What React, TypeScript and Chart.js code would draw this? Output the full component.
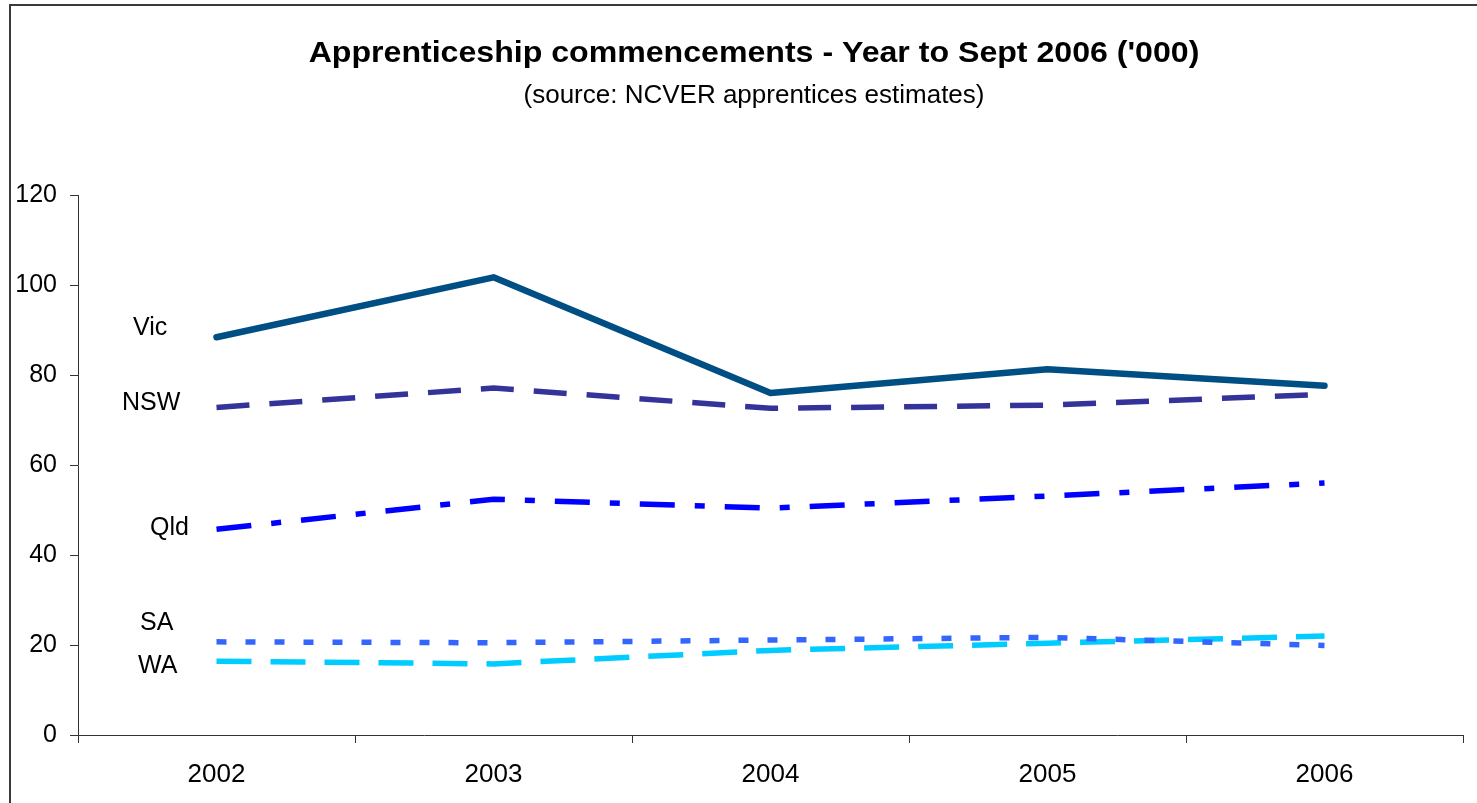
import React, { useEffect, useRef } from "react";
import { Chart, registerables } from "chart.js";

Chart.register(...registerables);

const years = ["2002", "2003", "2004", "2005", "2006"];
const vic = [88.4, 101.7, 76.0, 81.3, 77.6];
const nsw = [72.8, 77.1, 72.6, 73.3, 75.7];
const qld = [45.7, 52.4, 50.4, 53.1, 56.0];
const sa = [20.7, 20.5, 21.1, 21.7, 19.9];
const wa = [16.4, 15.8, 18.8, 20.4, 22.0];

const seriesNames = ["Vic", "NSW", "Qld", "SA", "WA"];
const seriesColors = ["#004F84", "#333399", "#0000FF", "#3366FF", "#00CCFF"];
// label anchors: value level and horizontal start
const labelLevels = [90.5, 73.8, 46.0, 24.8, 15.4];
const labelLeft = [133, 122, 150, 140, 138];

const titleText = "Apprenticeship commencements - Year to Sept 2006 ('000)";
const subtitleText = "(source: NCVER apprentices estimates)";
const FONT = "'Liberation Sans', Arial, sans-serif";

const decorPlugin = {
  id: "decor",
  beforeDraw(chart: any) {
    const ctx = chart.ctx;
    ctx.save();
    ctx.fillStyle = "#ffffff";
    ctx.fillRect(0, 0, chart.width, chart.height);
    ctx.strokeStyle = "#3a3a3a";
    ctx.lineWidth = 2;
    ctx.strokeRect(10, 5, chart.width + 20, chart.height + 20);
    ctx.fillStyle = "#000";
    ctx.textAlign = "center";
    ctx.textBaseline = "middle";
    ctx.save();
    ctx.translate(754, 54);
    ctx.scale(1.07, 1);
    ctx.font = "bold 30px " + FONT;
    ctx.fillText(titleText, 0, 0);
    ctx.restore();
    ctx.font = "26px " + FONT;
    ctx.fillText(subtitleText, 754, 96);
    ctx.restore();
  },
  afterDraw(chart: any) {
    const ctx = chart.ctx;
    const y = chart.scales.y;
    ctx.save();
    ctx.fillStyle = "#000";
    ctx.textAlign = "left";
    ctx.textBaseline = "middle";
    ctx.font = "25px " + FONT;
    seriesNames.forEach((n, i) => {
      ctx.fillText(n, labelLeft[i], y.getPixelForValue(labelLevels[i]));
    });
    ctx.restore();
  },
};

export default function App() {
  const ref = useRef<HTMLCanvasElement>(null);
  useEffect(() => {
    if (!ref.current) return;
    const data = [vic, nsw, qld, sa, wa];
    const dashes = [[], [33, 20], [35, 20, 10, 20], [10, 19], [35, 19]];
    const widths = [6.5, 5.5, 5.5, 5.5, 5.5];
    const chart = new Chart(ref.current, {
      type: "line",
      data: {
        labels: years,
        datasets: seriesNames.map((n, i) => ({
          label: n,
          data: data[i],
          borderColor: seriesColors[i],
          backgroundColor: seriesColors[i],
          borderWidth: widths[i],
          borderDash: dashes[i],
          borderCapStyle: i === 0 ? "round" : "butt",
          borderJoinStyle: i === 0 ? "round" : "miter",
          pointRadius: 0,
          tension: 0,
          fill: false,
        })),
      },
      options: {
        animation: false,
        responsive: false,
        maintainAspectRatio: false,
        events: [],
        layout: { padding: { left: 0, top: 195, right: 14, bottom: 0 } },
        plugins: { legend: { display: false }, title: { display: false }, tooltip: { enabled: false } },
        scales: {
          x: {
            type: "category",
            offset: true,
            grid: { offset: true, drawOnChartArea: false, drawTicks: true, tickLength: 8, color: "#333", lineWidth: 1 },
            border: { display: true, color: "#333", width: 1 },
            ticks: { color: "#000", font: { size: 26, family: FONT }, padding: 16, maxRotation: 0 },
            afterFit: (s: any) => { s.height = 68; },
          },
          y: {
            min: 0,
            max: 120,
            ticks: { stepSize: 20, color: "#000", font: { size: 25, family: FONT }, padding: 13 },
            grid: { drawOnChartArea: false, drawTicks: true, tickLength: 8, color: "#333", lineWidth: 1 },
            border: { display: true, color: "#333", width: 1 },
            afterFit: (s: any) => { s.width = 78; },
          },
        },
      },
      plugins: [decorPlugin],
    } as any);
    return () => chart.destroy();
  }, []);
  return (
    <div style={{ position: "fixed", left: 0, top: 0, width: 1477, height: 803, background: "#fff" }}>
      <canvas ref={ref} width={1477} height={803} style={{ display: "block", width: 1477, height: 803 }} />
    </div>
  );
}
